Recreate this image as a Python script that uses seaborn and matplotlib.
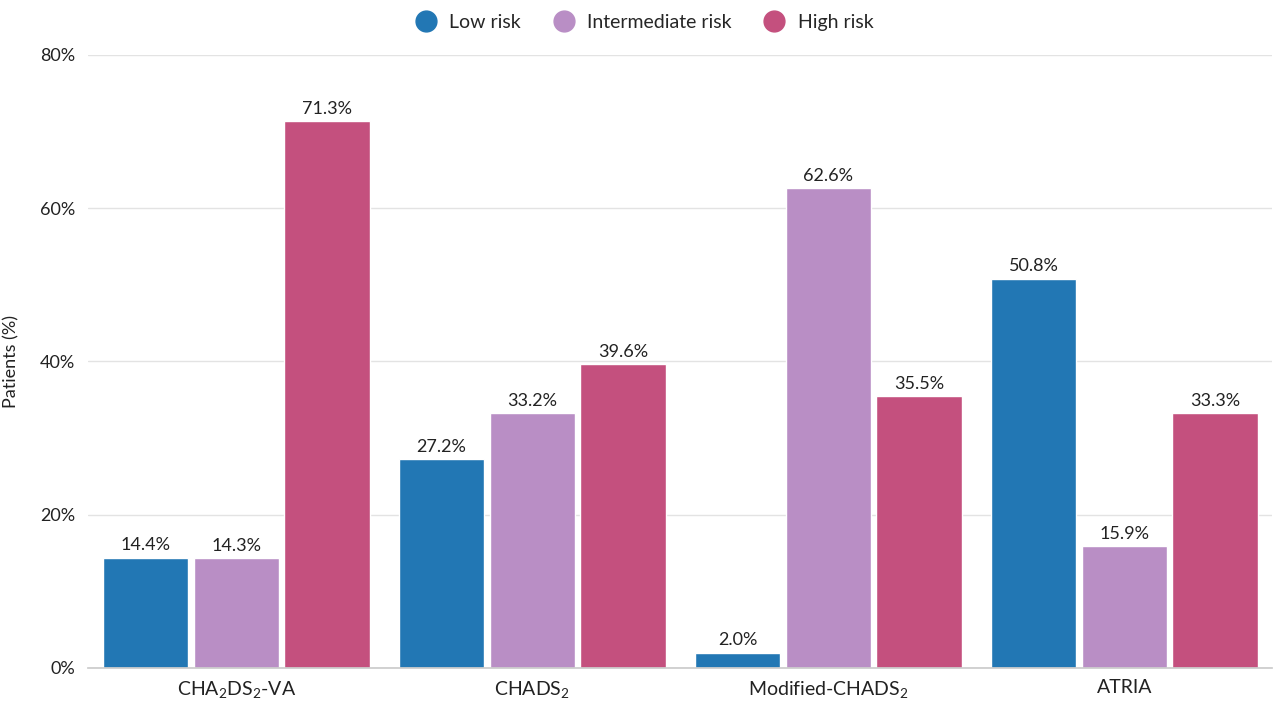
import pandas as pd
import seaborn as sns
import matplotlib.pyplot as plt
from matplotlib.lines import Line2D

scores = ['CHA$_2$DS$_2$-VA', 'CHADS$_2$', 'Modified-CHADS$_2$', 'ATRIA']
risks = ['Low risk', 'Intermediate risk', 'High risk']
low = [14.4, 27.2, 2.0, 50.8]
inter = [14.3, 33.2, 62.6, 15.9]
high = [71.3, 39.6, 35.5, 33.3]
colors = ['#2277B4', '#B98EC5', '#C4507E']

df = pd.DataFrame({'score': scores * 3,
                   'risk': [r for r in risks for _ in scores],
                   'value': low + inter + high})

sns.set_theme(style='white')
plt.rcParams['font.family'] = ['Lato', 'DejaVu Sans']
plt.rcParams['mathtext.fontset'] = 'custom'
plt.rcParams['mathtext.rm'] = 'Lato'
plt.rcParams['mathtext.it'] = 'Lato'

fig = plt.figure(figsize=(12.8, 7.03), dpi=100)
ax = fig.add_axes([0.069, 0.05, 0.925, 0.872])
sns.barplot(data=df, x='score', y='value', hue='risk', palette=colors,
            width=0.92, gap=0.06, ax=ax, legend=False, saturation=1)
for c in ax.containers:
    ax.bar_label(c, labels=[f'{v:.1f}%' for v in c.datavalues], padding=3, fontsize=13, color='#222222')

ax.set_ylim(0, 80)
ax.set_xlim(-0.5, 3.5)
ax.set_yticks([0, 20, 40, 60, 80])
ax.set_yticklabels([f'{t}%' for t in [0, 20, 40, 60, 80]], fontsize=13, color='#222222')
ax.tick_params(axis='x', labelsize=14, colors='#222222', pad=2)
ax.grid(axis='y', color='#e3e3e3', linewidth=1)
ax.set_axisbelow(True)
for s in ['top', 'right', 'left']:
    ax.spines[s].set_visible(False)
ax.spines['bottom'].set_color('#cccccc')
ax.set_xlabel('')
ax.set_ylabel('Patients (%)', fontsize=13, color='#222222')
ax.yaxis.set_label_coords(-0.058, 0.5)

handles = [Line2D([], [], marker='o', linestyle='', markersize=15, color=c) for c in colors]
fig.legend(handles, risks, loc='upper center', bbox_to_anchor=(0.5, 1.005), ncol=3,
           frameon=False, fontsize=14, handletextpad=0.2, columnspacing=1.2)

fig.savefig('out.png', dpi=100)
